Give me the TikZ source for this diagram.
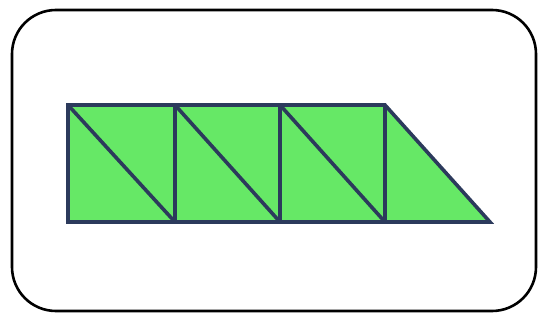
\documentclass[tikz,border=0pt]{standalone}
\definecolor{navy}{HTML}{2C3A5C}
\definecolor{fillgreen}{HTML}{66E866}
\tikzset{
  frame/.style={draw=black, line width=2.6pt, rounded corners=44pt},
  piece/.style={draw=navy, line width=3.6pt, fill=fillgreen, line join=miter},
  divider/.style={draw=navy, line width=3.6pt}
}
\begin{document}
\begin{tikzpicture}[x=1pt,y=-1pt]
\useasboundingbox (0,0) rectangle (547,321);
\draw[frame] (12,10) rectangle (536,311);
\coordinate (A) at (68,105);
\coordinate (B) at (385,105);
\coordinate (C) at (490,222);
\coordinate (D) at (68,222);
\path[piece] (A) -- (B) -- (C) -- (D) -- cycle;
\foreach \x in {175,280,385} {
  \draw[divider] (\x,105) -- (\x,222);
}
\foreach \x/\y in {68/175,175/280,280/385} {
  \draw[divider] (\x,105) -- (\y,222);
}
\end{tikzpicture}
\end{document}
